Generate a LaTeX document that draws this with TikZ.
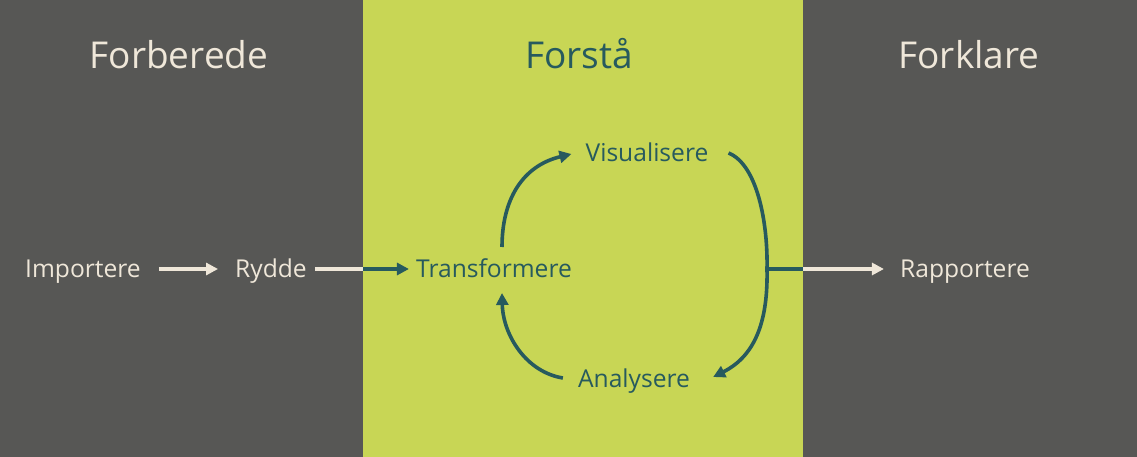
\documentclass[tikz,border=0pt]{standalone}
\usepackage{fontspec}
\setmainfont{Open Sans}
\usetikzlibrary{arrows.meta,calc}
\definecolor{panelgray}{HTML}{575755}
\definecolor{panelgreen}{HTML}{C8D655}
\definecolor{tealc}{HTML}{275A5E}
\definecolor{creamc}{HTML}{EFE7D9}
\begin{document}
\begin{tikzpicture}[x=1pt,y=-1pt,
  title/.style={anchor=base,inner sep=0pt,font=\fontsize{37}{40}\selectfont},
  lab/.style={anchor=base,inner sep=0pt,font=\fontsize{24.6}{28}\selectfont},
  tip/.style={-{Triangle[length=12pt,width=12pt]}},
  tealline/.style={draw=tealc,line width=3.6pt},
  creamline/.style={draw=creamc,line width=3.6pt}]
\useasboundingbox (0,0) rectangle (1137,457);
\fill[panelgray] (0,0) rectangle (363,457);
\fill[panelgreen] (363,0) rectangle (803,457);
\fill[panelgray] (803,0) rectangle (1137,457);

\node[title,text=creamc] (t1) at (179,69) {Forberede};
\node[title,text=tealc] (t2) at (579,69) {Forstå};
\node[title,text=creamc] (t3) at (969,69) {Forklare};

\node[lab,text=creamc] (imp) at (83,277) {Importere};
\node[lab,text=creamc] (ryd) at (271,277) {Rydde};
\node[lab,text=tealc] (tra) at (494,277) {Transformere};
\node[lab,text=tealc] (vis) at (647,162) {Visualisere};
\node[lab,text=tealc] (ana) at (634,387) {Analysere};
\node[lab,text=creamc] (rap) at (965,277) {Rapportere};

\coordinate (b1) at (363,269);
\coordinate (j) at (767,269);
\coordinate (b2) at (803,269);

\draw[creamline,tip] ($(imp.base east)+(18,-8)$) -- ($(ryd.base west)+(-17,-8)$);
\draw[creamline] ($(ryd.base east)+(8,-8)$) -- (b1);
\draw[tealline,tip] (b1) -- ($(tra.base west)+(-7,-8)$);

\draw[tealline,tip] ($(tra.base)+(8,-30)$) .. controls (502,200) and (522,166) .. ($(vis.base west)+(-14,-8)$);
\draw[tealline,tip] ($(ana.base west)+(-15,-9)$) .. controls (526,372) and (503,335) .. ($(tra.base)+(8,16)$);
\draw[tealline,tip] ($(vis.base east)+(20,-9)$) .. controls (758,165) and (768,225) .. (j)
  .. controls (768,318) and (757,355) .. ($(ana.base east)+(23,-10)$);
\draw[tealline] (j) -- (b2);
\draw[creamline,tip] (b2) -- ($(rap.base west)+(-16,-8)$);
\end{tikzpicture}
\end{document}
